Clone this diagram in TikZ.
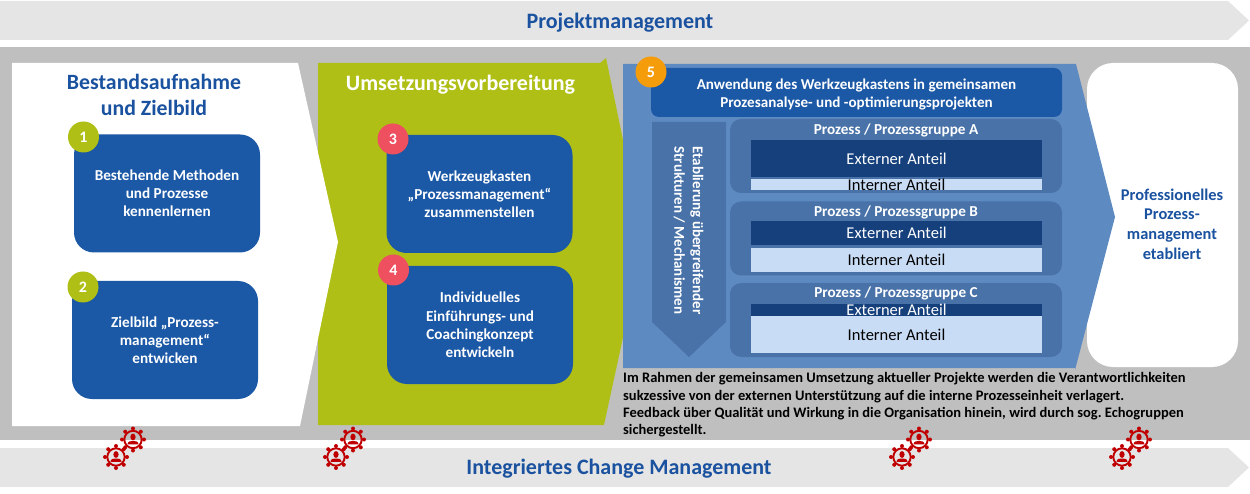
\documentclass[tikz,border=0pt]{standalone}
\usepackage{fontspec}
\setmainfont{Carlito}
\definecolor{bandgray}{HTML}{E5E5E5}
\definecolor{backgray}{HTML}{BFBFBF}
\definecolor{titleblue}{HTML}{1A52A0}
\definecolor{boxblue}{HTML}{1B58A6}
\definecolor{arrowblue}{HTML}{5E8AC2}
\definecolor{groupblue}{HTML}{4872A8}
\definecolor{extblue}{HTML}{15407C}
\definecolor{intblue}{HTML}{C9DCF5}
\definecolor{limegreen}{HTML}{AFBF16}
\definecolor{badgered}{HTML}{EE5060}
\definecolor{badgeorange}{HTML}{F59C0B}
\definecolor{gearred}{HTML}{C00000}
\begin{document}
\frenchspacing
\begin{tikzpicture}[x=1pt, y=-1pt,
	bandtext/.style = {font=\fontsize{22}{26}\bfseries\selectfont, text=titleblue},
	stepbox/.style = {rectangle, rounded corners=20pt, fill=boxblue, text=white, minimum width=186pt, minimum height=118pt, align=center, font=\fontsize{15.2}{18.2}\bfseries\selectfont},
	badge/.style = {circle, minimum size=31pt, inner sep=0pt, text=white, font=\fontsize{16}{18}\bfseries\selectfont},
	group/.style = {rectangle, rounded corners=11pt, fill=groupblue, minimum width=332pt, minimum height=74pt, inner sep=0pt},
	grouptitle/.style = {text=white, font=\fontsize{15.2}{18}\bfseries\selectfont},
	share/.style = {rectangle, minimum width=291pt, inner sep=0pt},
	sharetext/.style = {font=\fontsize{16.5}{18}\selectfont},
	gearman/.pic = {
		\draw[gearred, line width=1.9pt] (0,0) circle (8.7pt);
		\foreach \a in {0,45,...,315}
			\fill[gearred] (\a:11pt) circle (2pt);
		\fill[gearred] (0,-2.5) ellipse (2.6pt and 3.4pt);
		\fill[gearred] (-5.5,4.8) .. controls (-5.5,1.5) and (-2,1.5) .. (0,1.5) .. controls (2,1.5) and (5.5,1.5) .. (5.5,4.8) -- cycle;
	}]
	\useasboundingbox (0,0) rectangle (1250,494);
	\fill[bandgray] (0,1) -- (1228,1) -- (1249,20.5) -- (1228,40) -- (0,40) -- cycle;
	\fill[bandgray] (0,448) -- (1228,448) -- (1249,467.5) -- (1228,487) -- (0,487) -- cycle;
	\fill[backgray] (0,47) rectangle (1250,440);
	\node[bandtext] (pm) at (620,23) {Projektmanagement};
	\node[bandtext] (cm) at (619,468.5) {Integriertes Change Management};
	\fill[limegreen] (318,63) -- (600,63) -- (606,58) -- (644,241) -- (604,425) -- (318,425) -- cycle;
	\fill[white] (12,63) -- (298,63) -- (338,242) -- (300,426) -- (12,426) -- cycle;
	\fill[white, rounded corners=26pt] (1087,63) rectangle (1238,367);
	\fill[arrowblue] (623,64) -- (1076,64) -- (1115,217) -- (1075,370) -- (1075,368) -- (623,368) -- cycle;
	\node[bandtext, align=center, font=\fontsize{21.8}{26}\bfseries\selectfont] (title1) at (154,95) {Bestandsaufnahme\\und Zielbild};
	\node[text=white, font=\fontsize{22}{26}\bfseries\selectfont] (title2) at (460.5,85) {Umsetzungsvorbereitung};
	\node[stepbox] (box1) at (167,193.5) {Bestehende Methoden\\und Prozesse\\kennenlernen};
	\node[stepbox] (box2) at (165,340) {Zielbild „Prozess-\\management“\\entwicken};
	\node[stepbox] (box3) at (479.5,194) {Werkzeugkasten\\„Prozessmanagement“\\zusammenstellen};
	\node[stepbox] (box4) at (480,325) {Individuelles\\Einführungs- und\\Coachingkonzept\\entwickeln};
	\node[badge, fill=limegreen] (b1) at (83.5,137) {1};
	\node[badge, fill=limegreen] (b2) at (83,287) {2};
	\node[badge, fill=badgered] (b3) at (393,139) {3};
	\node[badge, fill=badgered] (b4) at (393.5,270) {4};
	\node[rectangle, rounded corners=8pt, fill=boxblue, minimum width=411pt, minimum height=49pt] (tools) at (856.5,92.5) {};
	\node[text=white, align=center, font=\fontsize{15.1}{18.5}\bfseries\selectfont] (toolstext) at (856.5,94.5) {Anwendung des Werkzeugkastens in gemeinsamen\\Prozesanalyse- und -optimierungsprojekten};
	\node[badge, fill=badgeorange] (b5) at (651,72) {5};
	\fill[groupblue] (652,122) -- (726,122) -- (726,322) -- (689,357) -- (652,322) -- cycle;
	\node[rotate=-90, text=white, align=center, font=\fontsize{15}{18.5}\bfseries\selectfont] (struct) at (688.5,230.5) {Etablierung übergreifender\\Strukturen / Mechanismen};
	\node[group] (ga) at (896,156) {};
	\node[group] (gb) at (896,238.5) {};
	\node[group] (gc) at (896,320) {};
	\node[grouptitle] (ta) at (896,130) {Prozess / Prozessgruppe A};
	\node[grouptitle] (tb) at (896,212) {Prozess / Prozessgruppe B};
	\node[grouptitle] (tc) at (896,293.5) {Prozess / Prozessgruppe C};
	\node[share, fill=extblue, minimum height=37pt, label={[sharetext, text=white]center:Externer Anteil}] (ea) at (896.5,158.5) {};
	\node[share, fill=intblue, minimum height=11pt, label={[sharetext]center:Interner Anteil}] (ia) at (896.5,184.5) {};
	\node[share, fill=extblue, minimum height=24pt, label={[sharetext, text=white]center:Externer Anteil}] (eb) at (896.5,233) {};
	\node[share, fill=intblue, minimum height=24pt, label={[sharetext]center:Interner Anteil}] (ib) at (896.5,260) {};
	\node[share, fill=extblue, minimum height=12pt, label={[sharetext, text=white]center:Externer Anteil}] (ec) at (896.5,310) {};
	\node[share, fill=intblue, minimum height=37pt, label={[sharetext]center:Interner Anteil}] (ic) at (896.5,334.5) {};
	\node[text=titleblue, align=center, font=\fontsize{16.4}{19.7}\bfseries\selectfont] (goal) at (1172,224) {Professionelles\\Prozess-\\management\\etabliert};
	\node[anchor=north west, inner sep=0pt, align=left, font=\fontsize{14.5}{17.2}\bfseries\selectfont] (note) at (623,372.5) {Im Rahmen der gemeinsamen Umsetzung aktueller Projekte werden die Verantwortlichkeiten\\sukzessive von der externen Unterstützung auf die interne Prozesseinheit verlagert.\\Feedback über Qualität und Wirkung in die Organisation hinein, wird durch sog. Echogruppen\\sichergestellt.};
	\foreach \x in {116,336,902,1122}
		\pic at (\x,457) {gearman};
	\foreach \x in {133,353,919,1139}
		\pic at (\x,439.5) {gearman};
\end{tikzpicture}
\end{document}
